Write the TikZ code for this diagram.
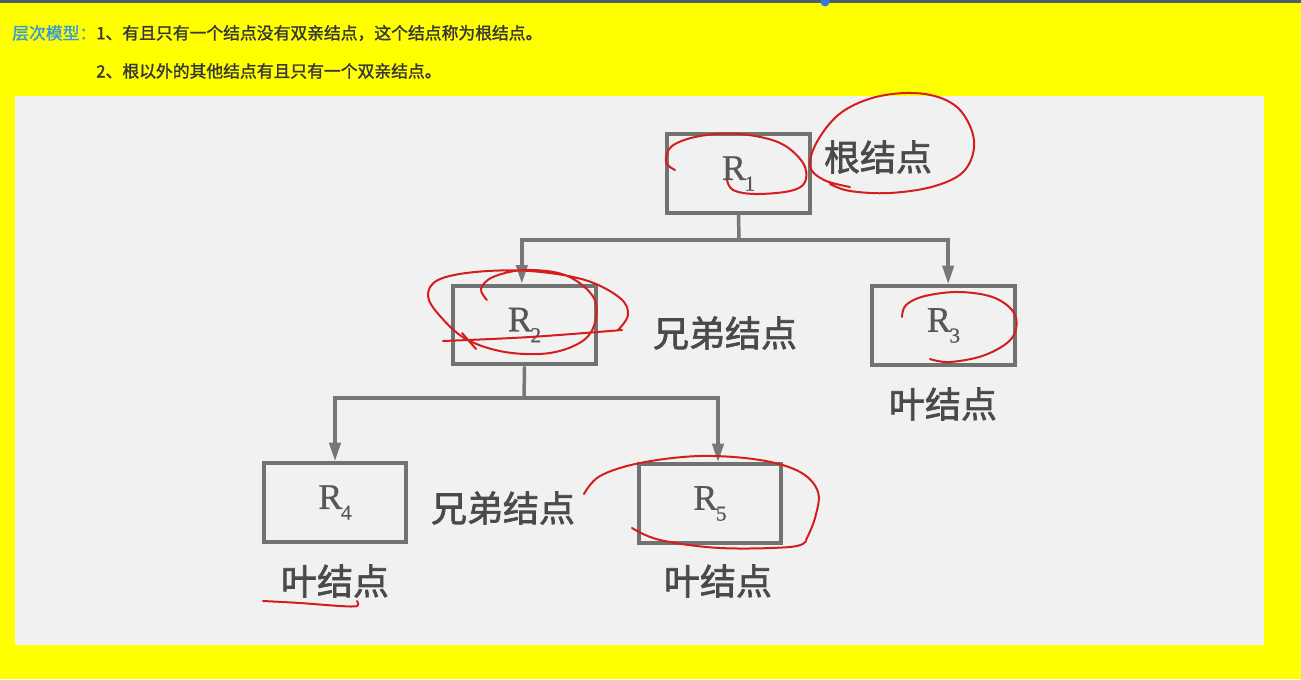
\documentclass[tikz,border=0pt]{standalone}
\usepackage{fontspec}
\newfontfamily\cjk[FakeBold=1.8]{Noto Sans CJK SC}
\newfontfamily\cjkhead[FakeBold=1.6]{Noto Sans CJK SC}
\newfontfamily\rfont[FakeBold=0.8]{Liberation Serif}
\usetikzlibrary{arrows.meta}
\definecolor{bgyellow}{HTML}{FFFF00}
\definecolor{panelgray}{HTML}{F1F1F1}
\definecolor{boxgray}{HTML}{727272}
\definecolor{linegray}{HTML}{777777}
\definecolor{rgray}{HTML}{575757}
\definecolor{lblgray}{HTML}{4A4A4A}
\definecolor{inkred}{HTML}{D41E1E}
\definecolor{headblue}{HTML}{3A9CD2}
\definecolor{headdark}{HTML}{383838}
\definecolor{topbar}{HTML}{4E5E66}
\definecolor{dotblue}{HTML}{3B76E0}
\newcommand{\rlab}[1]{\rfont R\kern-0.04em\raisebox{-0.3em}{\fontsize{16}{16}\selectfont #1}}
\begin{document}
\begin{tikzpicture}[x=0.75pt,y=-0.75pt,
  rbox/.style={draw=boxgray, line width=3pt, minimum width=107pt, minimum height=59pt,
    inner sep=0pt, text=rgray, font=\fontsize{27}{30}\selectfont},
  lbl/.style={text=lblgray, inner sep=0pt, font=\cjk\fontsize{27}{30}\selectfont},
  conn/.style={draw=linegray, line width=2.6pt},
  arr/.style={conn, -{Triangle[length=14pt,width=8.5pt]}},
  redink/.style={draw=inkred, line width=1.5pt, line cap=round, line join=round},
  head/.style={anchor=west, inner sep=0pt, font=\cjkhead\fontsize{12.6}{14}\selectfont}]
\useasboundingbox (0,0) rectangle (1301,679);
% backgrounds
\fill[bgyellow] (0,0) rectangle (1301,679);
\fill[topbar] (0,0) rectangle (1301,3);
\fill[dotblue] (825,2) circle (4.5);
\fill[panelgray] (15,96) rectangle (1264,645);
% header
\node[head, text=headblue] (h0) at (12,33) {层次模型：};
\node[head, text=headdark] (h1) at (96,33) {1、有且只有一个结点没有双亲结点，这个结点称为根结点。};
\node[head, text=headdark] (h2) at (96,71) {2、根以外的其他结点有且只有一个双亲结点。};
% boxes
\node[rbox] (R1) at (738.5,173.5) {\rlab{1}};
\node[rbox] (R2) at (524.5,325) {\rlab{2}};
\node[rbox] (R3) at (943.5,325.5) {\rlab{3}};
\node[rbox] (R4) at (335,502.5) {\rlab{4}};
\node[rbox] (R5) at (710,503.5) {\rlab{5}};
% labels
\node[lbl] (l1) at (878,157) {根结点};
\node[lbl] (l2) at (725,333) {兄弟结点};
\node[lbl] (l3) at (943,404) {叶结点};
\node[lbl] (l4) at (503,508) {兄弟结点};
\node[lbl] (l5) at (335,581) {叶结点};
\node[lbl] (l6) at (718,581) {叶结点};
% connectors
\coordinate (j1) at (739,240);
\coordinate (j2) at (524,398);
\draw[conn] (R1.south) -- (j1);
\draw[arr] (j1) -| ([xshift=-2pt]R2.north);
\draw[arr] (j1) -| ([xshift=3.5pt]R3.north);
\draw[conn] (R2.south) -- (j2);
\draw[arr] (j2) -| (R4.north);
\draw[arr] (j2) -| ([xshift=6pt]R5.north);
% red annotations
\draw[redink] plot[smooth, tension=0.6] coordinates {(675,170) (666,162) (672,146) (700,136) (740,134) (780,143) (803,163) (805,182) (790,191) (755,194) (733,190) (727,180)};
\draw[redink] plot[smooth, tension=0.6] coordinates {(850,187) (824,180) (810,166) (818,140) (842,112) (880,96) (925,94) (958,108) (974,140) (965,170) (935,186) (890,193) (850,191) (830,184)};
\draw[redink] plot[smooth, tension=0.6] coordinates {(487,300) (481,289) (493,277) (525,270) (565,275) (592,295) (596,318) (584,340) (550,353) (505,352) (466,339) (440,316) (428,296) (438,280) (475,272) (530,271) (585,280) (620,298) (628,315) (618,330)};
\draw[redink] plot[smooth, tension=0.6] coordinates {(443,341) (530,337) (622,330)};
\draw[redink] (462,333) -- (476,349);
\draw[redink] plot[smooth, tension=0.6] coordinates {(902,317) (906,305) (925,296) (960,292) (995,298) (1015,315) (1012,338) (985,355) (950,362) (930,359)};
\draw[redink] plot[smooth, tension=0.6] coordinates {(584,494) (600,476) (640,463) (700,456) (760,460) (800,472) (818,492) (815,518) (806,540)};
\draw[redink] plot[smooth, tension=0.6] coordinates {(632,528) (660,540) (720,548) (790,547) (806,541)};
\draw[redink] plot[smooth, tension=0.6] coordinates {(263,601) (300,603) (340,606) (357,606) (357,601)};
\end{tikzpicture}
\end{document}
